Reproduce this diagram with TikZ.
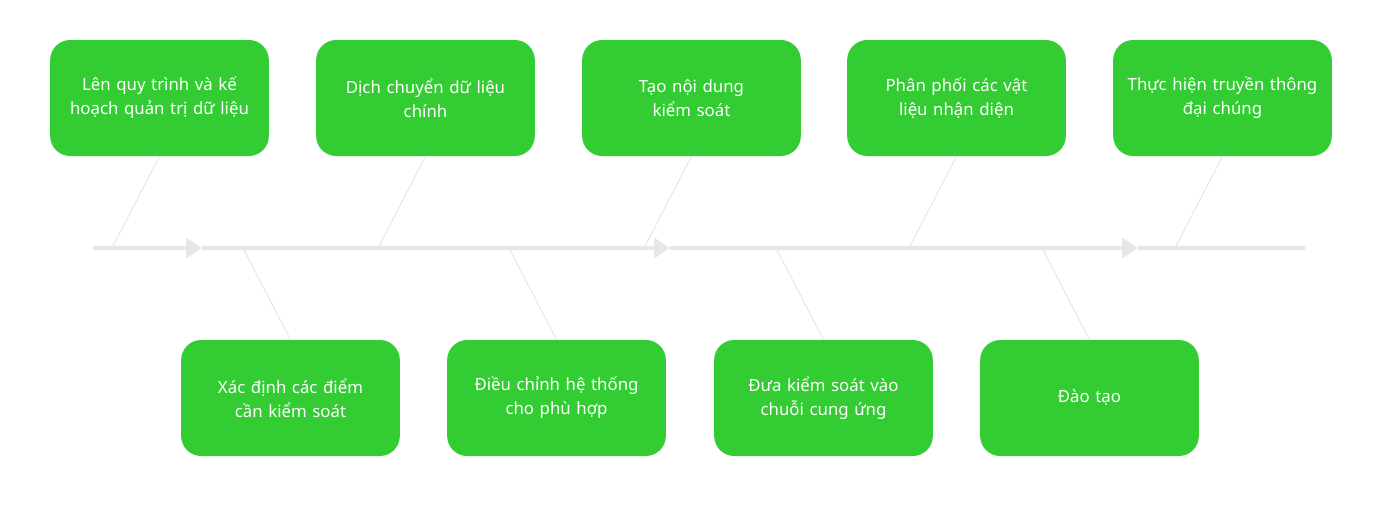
\documentclass[tikz,border=0pt]{standalone}
\usepackage{fontspec}
\setmainfont{Noto Sans}
\usetikzlibrary{arrows.meta,positioning}
\definecolor{taskgreen}{HTML}{33CC33}
\definecolor{spinegray}{HTML}{E6E6E6}
\definecolor{ribgray}{HTML}{E4E4E4}

\begin{document}
\begin{tikzpicture}[x=0.75pt, y=-0.75pt,
    task/.style={fill=taskgreen, rounded corners=15pt, minimum width=164pt,
      minimum height=87pt, text width=158pt, align=center, text=white,
      inner sep=0pt, font=\fontsize{12.6}{18}\selectfont},
    spine/.style={spinegray, line width=3.5pt},
    rib/.style={ribgray, line width=0.7pt},
    head/.style={-{Triangle[length=12pt, width=15pt]}}]
  \useasboundingbox (0,0) rectangle (1396,511);

  % top row
  \node[task] (t1) at (159.5,98) {Lên quy trình và kế\\hoạch quản trị dữ liệu};
  \node[task] (t2) at (425.5,98) {Dịch chuyển dữ liệu\\chính};
  \node[task] (t3) at (691.5,98) {Tạo nội dung\\kiểm soát};
  \node[task] (t4) at (956.5,98) {Phân phối các vật\\liệu nhận diện};
  \node[task] (t5) at (1222.5,98) {Thực hiện truyền thông\\đại chúng};

  % bottom row
  \node[task] (b1) at (290.5,398) {Xác định các điểm\\cần kiểm soát};
  \node[task] (b2) at (556.5,398) {Điều chỉnh hệ thống\\cho phù hợp};
  \node[task] (b3) at (823.5,398) {Đưa kiểm soát vào\\chuỗi cung ứng};
  \node[task] (b4) at (1089.5,398) {Đào tạo};

  % spine points
  \coordinate (s0) at (93,248);
  \coordinate (a1) at (202,248);
  \coordinate (a2) at (670,248);
  \coordinate (a3) at (1138,248);
  \coordinate (s4) at (1305,248);

  % feet of the ribs
  \coordinate (ft1) at (112,248);
  \coordinate (ft2) at (378,248);
  \coordinate (ft3) at (644,248);
  \coordinate (ft4) at (909,248);
  \coordinate (ft5) at (1175,248);
  \coordinate (fb1) at (243,248);
  \coordinate (fb2) at (509,248);
  \coordinate (fb3) at (776,248);
  \coordinate (fb4) at (1042,248);

  % ribs
  \draw[rib] (t1.south) -- (ft1);
  \draw[rib] (t2.south) -- (ft2);
  \draw[rib] (t3.south) -- (ft3);
  \draw[rib] (t4.south) -- (ft4);
  \draw[rib] (t5.south) -- (ft5);
  \draw[rib] (b1.north) -- (fb1);
  \draw[rib] (b2.north) -- (fb2);
  \draw[rib] (b3.north) -- (fb3);
  \draw[rib] (b4.north) -- (fb4);

  % spine
  \draw[spine, head] (s0) -- (a1);
  \draw[spine, head] (a1) -- (a2);
  \draw[spine, head] (a2) -- (a3);
  \draw[spine] (a3) -- (s4);
\end{tikzpicture}
\end{document}
